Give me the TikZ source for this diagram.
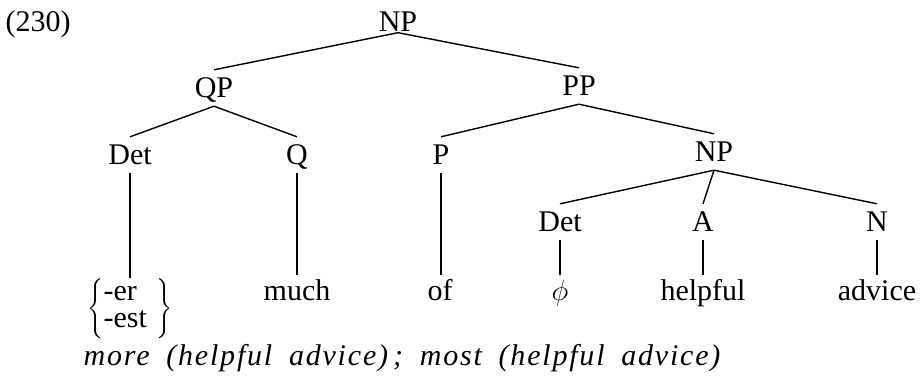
\documentclass[tikz,border=0pt]{standalone}
\usepackage{fontspec}
\setmainfont{Liberation Serif}
\newfontfamily\glossfont[LetterSpace=6,WordSpace=1.8]{Liberation Serif}
\begin{document}
\begin{tikzpicture}[x=0.5pt,y=-0.5pt,font=\fontsize{15}{15}\selectfont,line width=0.7pt,
  cat/.style={inner xsep=0pt,inner ysep=4pt,text height=9.5pt,text depth=0pt},
  word/.style={anchor=base,inner xsep=0pt,inner ysep=2pt,text height=10pt,text depth=0pt}]
\useasboundingbox (0,0) rectangle (920,390);
% example number
\node[anchor=base west,inner sep=0pt] (num) at (5,32) {(230)};

% categories
\node[cat,inner ysep=0pt] (np) at (398,22.5) {NP};
\node[cat] (qp)   at (214,88)  {QP};
\node[cat] (pp)   at (579,86)  {PP};
\node[cat] (det)  at (130,155) {Det};
\node[cat] (q)    at (297,155) {Q};
\node[cat] (p)    at (441,155) {P};
\node[cat] (np2)  at (714,152) {NP};
\node[cat] (det2) at (560,222) {Det};
\node[cat] (a)    at (703,222) {A};
\node[cat] (n)    at (877,222) {N};

% words
\node[anchor=north,inner sep=0pt] (affix) at (130,278)
  {\delimitershortfall=0pt\renewcommand\arraystretch{0.9}%
   $\left\{\mbox{\begin{tabular}{@{}l@{}}-er\\-est\end{tabular}}\,\,\right\}$};
\node[word] (much)    at (297,300) {much};
\node[word] (of)      at (440,300) {of};
\node[word] (null)    at (560,300) {$\phi$};
\node[word] (helpful) at (703,300) {helpful};
\node[word] (advice)  at (877,300) {advice};

% branches
\draw (np.south) -- (qp.north);
\draw (np.south) -- (pp.north);
\draw (qp.south) -- (det.north);
\draw (qp.south) -- (q.north);
\draw (pp.south) -- (p.north);
\draw (pp.south) -- (np2.north);
\draw (np2.south) -- (det2.north);
\draw (np2.south) -- (a.north);
\draw (np2.south) -- (n.north);
% vertical lines down to the words
\draw (det.south) -- (det.south |- affix.north);
\draw (q.south) -- (q.south |- much.north);
\draw (p.south) -- (p.south |- of.north);
\draw (det2.south) -- (det2.south |- null.north);
\draw (a.south) -- (a.south |- helpful.north);
\draw (n.south) -- (n.south |- advice.north);

% gloss
\node[anchor=base west,inner sep=0pt,font=\fontsize{15}{15}\glossfont\itshape] (gloss) at (83,365)
  {more (helpful advice)\,; most (helpful advice)};
\end{tikzpicture}
\end{document}
